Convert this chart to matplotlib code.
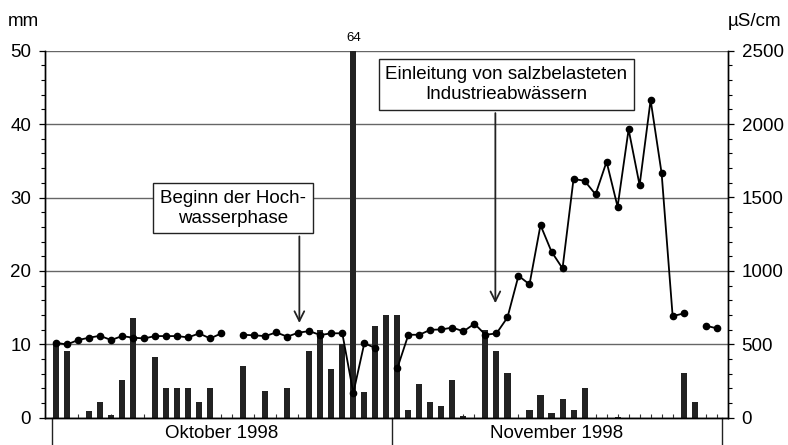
import numpy as np
import matplotlib
matplotlib.use("Agg")
import matplotlib.pyplot as plt
import matplotlib.transforms as mtransforms

plt.rcParams['font.family'] = ['Liberation Sans', 'DejaVu Sans']

# Days: 1 = 1 Oct 1998 ... 61 = 30 Nov 1998
days = list(range(1, 62))

# Daily precipitation (mm)
precip = [10.0, 9.1, 0.0, 0.9, 2.1, 0.3, 5.1, 13.6, 0.0, 8.3,
          4.0, 4.0, 4.0, 2.1, 4.0, 0.0, 0.0, 7.1, 0.0, 3.6,
          0.0, 4.0, 0.0, 9.1, 12.0, 6.6, 10.0, 64.0, 3.5, 12.5,
          14.0,
          14.0, 1.1, 4.6, 2.1, 1.6, 5.1, 0.2, 0.0, 12.0, 9.1,
          6.1, 0.0, 1.1, 3.1, 0.6, 2.6, 1.1, 4.1, 0.0, 0.0,
          0.1, 0.0, 0.0, 0.0, 0.0, 0.0, 6.1, 2.2, 0.0, 0.0]

# Electrical conductivity (µS/cm), None = no measurement
conduct = [510, 499, 529, 545, 558, 529, 556, 545, 540, 556,
           556, 556, 547, 574, 540, 574, None, 565, 561, 556,
           581, 552, 579, 590, 563, 575, 575, 168, 508, 474,
           None,
           338, 565, 565, 599, 601, 614, 588, 640, 565, 574,
           683, 967, 908, 1312, 1131, 1017, 1626, 1614, 1521, 1744,
           1437, 1964, 1584, 2164, 1664, 692, 710, None, 627, 609]

months = ["Oktober 1998", "November 1998"]
month_bounds = [0.6, 31.5, 61.5]

fig = plt.figure(figsize=(7.88, 4.45), dpi=100)
ax = fig.add_axes([45 / 788, 27.3 / 445, (727.7 - 45) / 788, 367 / 445])
ax2 = ax.twinx()

FS = 13.5
dark = '#222222'

ax.set_xlim(0, 62)
ax.set_ylim(0, 50)
ax2.set_ylim(0, 2500)

ax.set_yticks(range(0, 51, 10))
ax.set_yticks(np.arange(0, 51, 2), minor=True)
ax2.set_yticks(range(0, 2501, 500))
ax2.set_yticks(range(0, 2501, 100), minor=True)
ax.grid(axis='y', which='major', color='#666666', linewidth=1.0)
ax.set_axisbelow(True)

ax.bar(days, precip, width=0.55, color=dark, zorder=2, clip_on=True)

c = np.array([np.nan if v is None else v for v in conduct], dtype=float)
ax2.plot(days, c, color='black', linewidth=1.3, marker='o', markersize=4.5,
         markerfacecolor='black', zorder=3)

ax.set_xticks(days)
ax.tick_params(axis='x', which='major', direction='in', length=3, width=0.8,
               labelbottom=False, colors='#333333')
ax.tick_params(axis='y', which='major', direction='out', length=4, width=0.9,
               labelsize=FS, pad=6)
ax.tick_params(axis='y', which='minor', direction='out', length=3, width=0.8)
ax2.tick_params(axis='y', which='major', direction='out', length=4, width=0.9,
                labelsize=FS, pad=6)
ax2.tick_params(axis='y', which='minor', direction='out', length=3, width=0.8)

for a in (ax, ax2):
    a.spines['top'].set_visible(False)
    a.spines['left'].set_linewidth(1.0)
    a.spines['right'].set_linewidth(1.0)
    a.spines['bottom'].set_linewidth(1.0)

ax2.set_zorder(ax.get_zorder() + 1)
ax2.patch.set_visible(False)

# unit labels
fig.text(8 / 788, 1 - 21.7 / 445, "mm", fontsize=FS, ha='left', va='center')
fig.text(728 / 788, 1 - 21.7 / 445, "µS/cm", fontsize=FS, ha='left', va='center')

# label for clipped bar
ax.annotate("64", xy=(28, 50), xytext=(0, 9), textcoords='offset points',
            ha='center', va='center', fontsize=9.5, annotation_clip=False)

# month boxes below axis
trans = mtransforms.blended_transform_factory(ax.transData, ax.transAxes)
for b in month_bounds:
    ax.plot([b, b], [0, -0.09], transform=trans, color='#222222',
            linewidth=1.0, clip_on=False)
for i, m in enumerate(months):
    xc = (month_bounds[i] + month_bounds[i + 1]) / 2
    ax.text(xc, -0.042, m, transform=trans, ha='center', va='center',
            fontsize=FS)

# annotations
bbox = dict(boxstyle='square,pad=0.35', facecolor='white', edgecolor='#222222',
            linewidth=1.0)
arrow = dict(arrowstyle='->,head_length=0.7,head_width=0.35', color='#222222',
             lw=1.3, shrinkA=0, shrinkB=0)
ax.text(17.07, 28.54, "Beginn der Hoch-\nwasserphase", ha='center', va='center',
        fontsize=FS, bbox=bbox, zorder=5, linespacing=1.25)
ax.annotate("", xy=(23.1, 12.9), xytext=(23.1, 24.7), arrowprops=arrow,
            zorder=5)
ax.text(41.9, 45.4, "Einleitung von salzbelasteten\nIndustrieabwässern",
        ha='center', va='center', fontsize=FS, bbox=bbox, zorder=5,
        linespacing=1.25)
ax.annotate("", xy=(40.9, 15.6), xytext=(40.9, 41.5), arrowprops=arrow,
            zorder=5)

fig.savefig("out.png", dpi=100)
